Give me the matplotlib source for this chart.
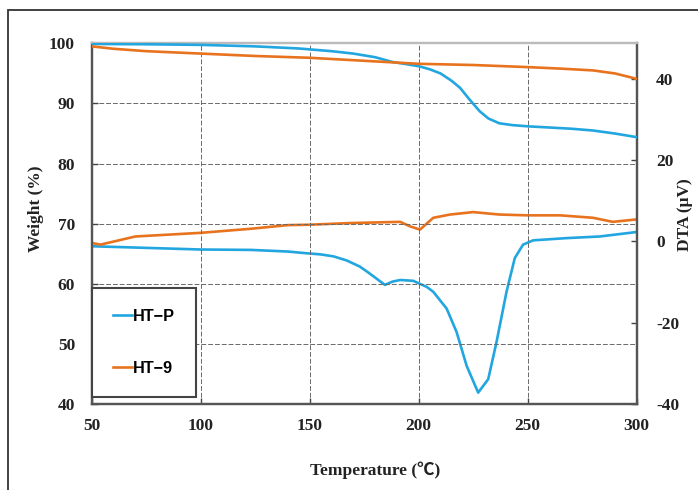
import matplotlib
matplotlib.use('Agg')
import matplotlib.pyplot as plt
from matplotlib.patches import Rectangle

# TG curves (left axis, weight %)
temp_tg_p = [50, 75, 100, 125, 145, 150, 160, 170, 180, 188, 195, 200, 205, 210,
             215, 219, 223, 228, 232, 237, 243, 250, 260, 270, 280, 290, 300]
wt_p = [99.9, 99.85, 99.75, 99.5, 99.15, 99.0, 98.7, 98.3, 97.7, 96.9, 96.5, 96.2,
        95.7, 95.0, 93.8, 92.6, 90.8, 88.7, 87.5, 86.7, 86.4, 86.2, 86.0, 85.8,
        85.5, 85.0, 84.4]
temp_tg_9 = [50, 60, 75, 100, 125, 150, 175, 200, 225, 250, 265, 280, 290, 300]
wt_9 = [99.5, 99.1, 98.7, 98.3, 97.9, 97.6, 97.1, 96.6, 96.4, 96.05, 95.8, 95.5,
        95.0, 94.1]

# DTA curves (right axis, uV)
temp_dta_p = [50, 75, 100, 123, 140, 148, 155, 161, 167, 173, 177, 181, 184.5, 188,
              191.5, 197.5, 203.7, 206.7, 209.8, 212.8, 217.4, 222, 227.3, 231.9,
              235.7, 240.3, 244.1, 247.9, 252.5, 267.8, 283, 300]
dta_p = [-1.2, -1.6, -2.0, -2.1, -2.5, -2.9, -3.2, -3.7, -4.7, -6.2, -7.7, -9.3,
         -10.7, -9.9, -9.5, -9.7, -11.2, -12.4, -14.5, -16.5, -22.3, -30.6, -37.2,
         -33.9, -24.8, -12.4, -4.1, -0.8, 0.25, 0.8, 1.2, 2.3]
temp_dta_9 = [50, 54, 70, 100, 123, 140, 150, 168.5, 191.5, 196, 200.6, 206.7,
              214.4, 225, 237, 250, 265, 280, 289, 300]
dta_9 = [-0.4, -0.8, 1.2, 2.1, 3.1, 4.0, 4.1, 4.5, 4.8, 3.7, 2.9, 5.8, 6.6, 7.2,
         6.6, 6.4, 6.4, 5.8, 4.8, 5.4]

labels = ['HT\u2212P', 'HT\u22129']
x_ticks = [50, 100, 150, 200, 250, 300]
left_ticks = [40, 50, 60, 70, 80, 90, 100]
right_ticks = [-40, -20, 0, 20, 40]

BLUE = '#22a6e0'
ORANGE = '#e8731e'
SERIF = ['Liberation Serif', 'Noto Sans CJK JP', 'DejaVu Sans']

plt.rcParams['axes.unicode_minus'] = False


def plot_chart():
    fig = plt.figure(figsize=(6.98, 4.9), dpi=100)
    ax = fig.add_axes([0.1314, 0.1755, 0.7807, 0.736])
    ax2 = ax.twinx()

    l1, = ax.plot(temp_tg_p, wt_p, color=BLUE, lw=1.9, zorder=3)
    l2, = ax.plot(temp_tg_9, wt_9, color=ORANGE, lw=1.9, zorder=3)
    ax2.plot(temp_dta_p, dta_p, color=BLUE, lw=1.9)
    ax2.plot(temp_dta_9, dta_9, color=ORANGE, lw=1.9)

    ax.set_xlim(50, 300)
    ax.set_ylim(40, 100)
    ax2.set_ylim(-40, 48.7)
    ax.set_xticks(x_ticks)
    ax.set_yticks(left_ticks)
    ax2.set_yticks(right_ticks)

    ax.grid(True, color='#6a6a6a', linestyle=(0, (5, 2)), lw=0.7)
    ax.set_axisbelow(True)

    for a in (ax, ax2):
        for side in ('left', 'bottom', 'right'):
            a.spines[side].set_color('#555555')
            a.spines[side].set_linewidth(1.6)
        a.spines['top'].set_color('#bbbbbb')
        a.spines['top'].set_linewidth(1.6)
        a.tick_params(direction='in', length=4, width=1, color='#444444')
    ax.tick_params(axis='y', pad=12)
    ax.tick_params(axis='x', pad=10)
    ax2.tick_params(axis='y', pad=14)

    for t in ax.get_xticklabels() + ax.get_yticklabels() + ax2.get_yticklabels():
        t.set_fontfamily(SERIF)
        t.set_fontweight('bold')
        t.set_fontsize(12.5)
        t.set_color('#222222')

    fig.text(0.052, 0.575, 'Weight (%)', rotation=90, ha='center', va='center',
             family=SERIF, fontweight='bold', fontsize=12.5, color='#222222')
    fig.text(0.981, 0.563, 'DTA (\u03bcV)', rotation=90, ha='center', va='center',
             family=SERIF, fontweight='bold', fontsize=12.5, color='#222222')
    fig.text(0.537, 0.041, 'Temperature (\u2103)', ha='center', va='center',
             family=SERIF, fontweight='bold', fontsize=12.5, color='#222222')

    leg = ax.legend([l1, l2], labels, loc='lower left', bbox_to_anchor=(0.0, 0.019),
                    borderaxespad=0, fancybox=False, framealpha=1,
                    handlelength=1.15, handletextpad=0.1, labelspacing=2.3,
                    borderpad=1.3, prop={'family': 'Liberation Sans',
                                         'weight': 'bold', 'size': 11.7})
    leg.get_frame().set_edgecolor('#444444')
    leg.get_frame().set_linewidth(1.5)
    leg.set_zorder(10)
    ax.set_zorder(ax2.get_zorder() + 1)
    ax.patch.set_visible(False)

    # outer frame of the figure panel
    fig.patches.append(Rectangle((0.0115, -0.05), 1.05, 1.0296, transform=fig.transFigure,
                                 fill=False, edgecolor='#333333', lw=1.3))

    fig.savefig('out.png', dpi=100)


if __name__ == '__main__':
    plot_chart()
